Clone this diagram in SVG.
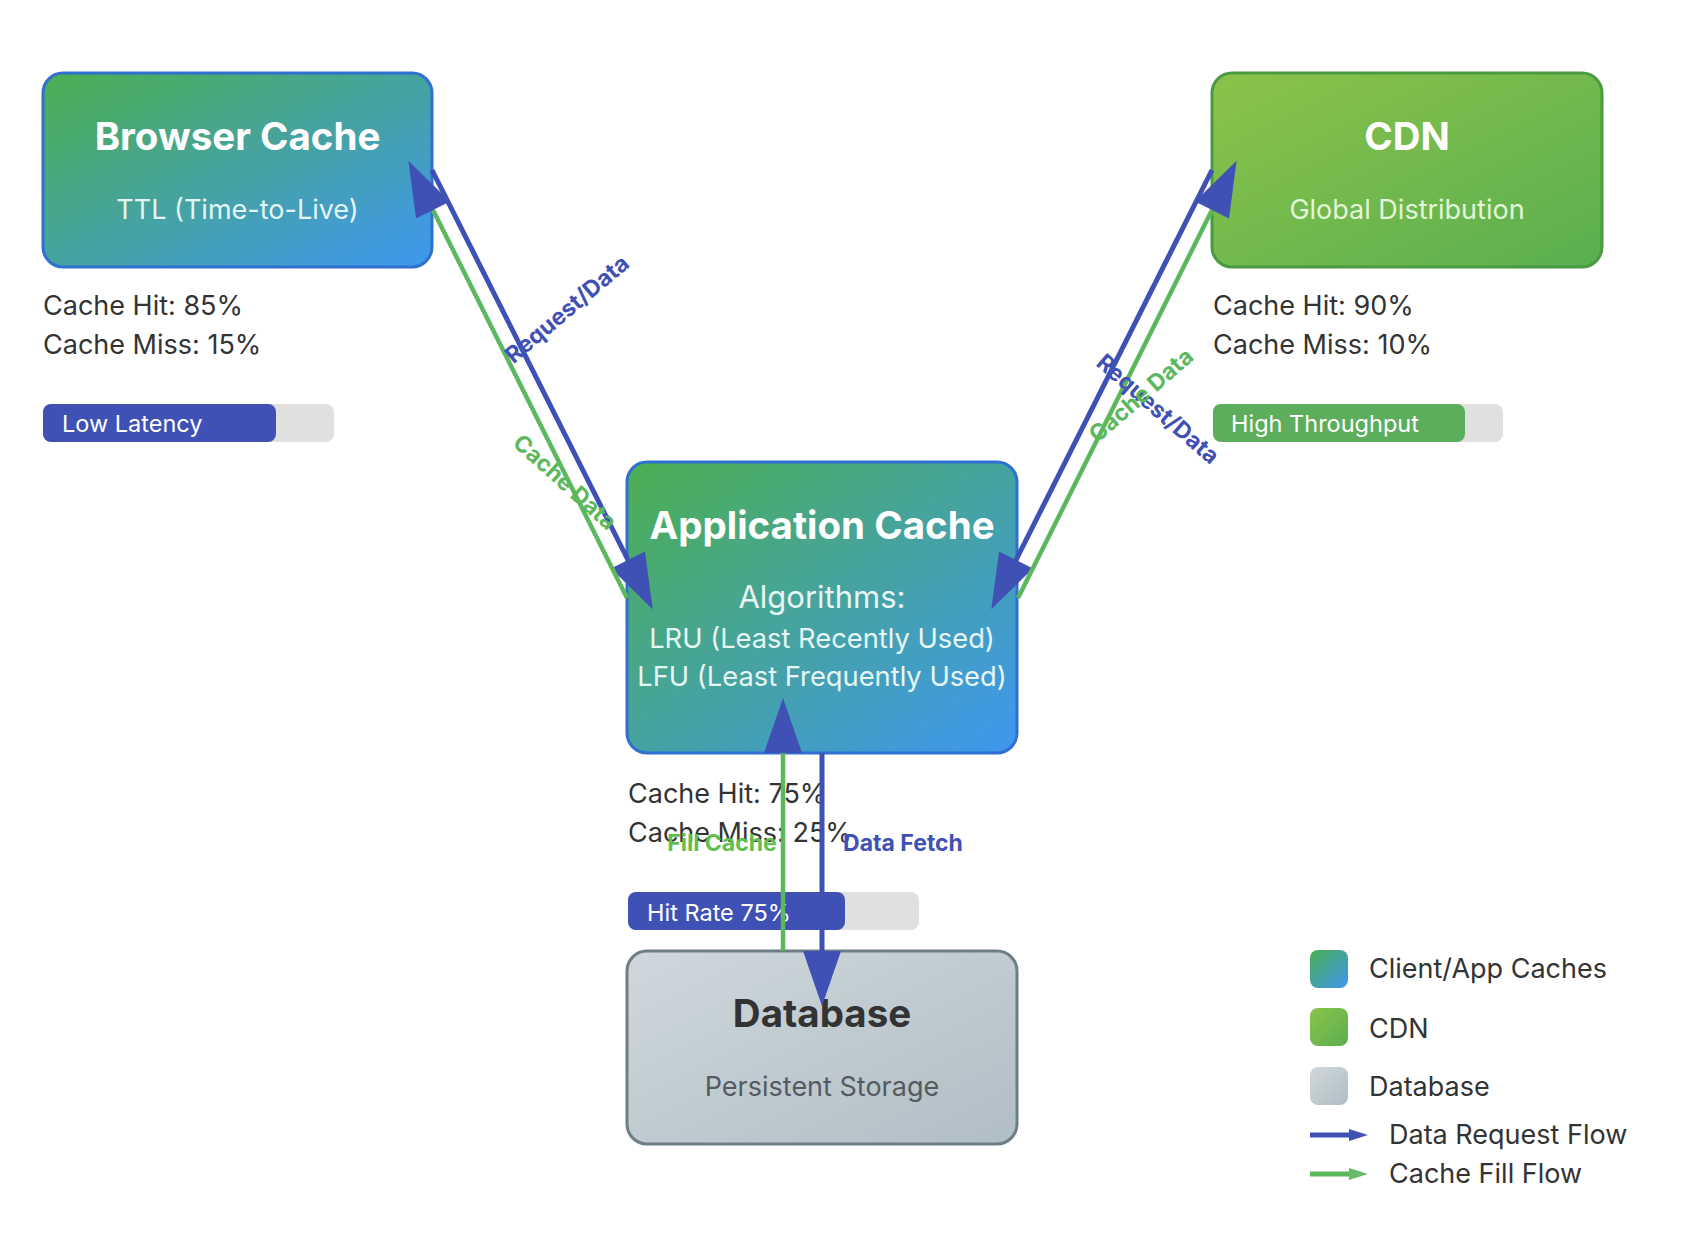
<svg xmlns="http://www.w3.org/2000/svg" width="1686" height="1234" viewBox="0 0 1686 1234">
  <style>
    text { font-family: Inter, "Liberation Sans", "DejaVu Sans", sans-serif; }
    .title { font-size: 38.5px; font-weight: 700; fill: #ffffff; text-anchor: middle; }
    .sub { font-size: 27px; text-anchor: middle; }
    .stat { font-size: 27px; fill: #333333; }
    .barText { font-size: 23.5px; fill: #ffffff; }
    .lbl { font-size: 23px; font-weight: 700; text-anchor: middle; }
    .legend { font-size: 27px; fill: #333333; }
    .req { stroke: #3f51b5; stroke-width: 5; fill: none; }
    .fill { stroke: #5cb85c; stroke-width: 4.5; fill: none; }
  </style>
  <defs>
    <linearGradient id="gClient" x1="0" y1="0" x2="1" y2="1">
      <stop offset="0" stop-color="#4caf50"/>
      <stop offset="1" stop-color="#3f97f0"/>
    </linearGradient>
    <linearGradient id="gCdn" x1="0" y1="0" x2="1" y2="1">
      <stop offset="0" stop-color="#8bc34a"/>
      <stop offset="1" stop-color="#5aaf50"/>
    </linearGradient>
    <linearGradient id="gDb" x1="0" y1="0" x2="1" y2="1">
      <stop offset="0" stop-color="#cfd8dc"/>
      <stop offset="1" stop-color="#b0bec5"/>
    </linearGradient>
    <marker id="ah" markerUnits="userSpaceOnUse" markerWidth="56" markerHeight="38" refX="0" refY="19" orient="auto" overflow="visible">
      <path d="M0,0 L55,19 L0,38 Z" fill="#3f51b5"/>
    </marker>
    <marker id="ahBlueSm" markerUnits="userSpaceOnUse" markerWidth="20" markerHeight="12" refX="0" refY="6" orient="auto" overflow="visible">
      <path d="M0,0 L19,6 L0,12 Z" fill="#3f51b5"/>
    </marker>
    <marker id="ahGreenSm" markerUnits="userSpaceOnUse" markerWidth="20" markerHeight="12" refX="0" refY="6" orient="auto" overflow="visible">
      <path d="M0,0 L19,6 L0,12 Z" fill="#66bb6a"/>
    </marker>
  </defs>

  <rect width="1686" height="1234" fill="#ffffff"/>

  <!-- Browser Cache -->
  <g id="browser-cache">
    <rect x="43" y="73" width="389" height="194" rx="20" fill="url(#gClient)" stroke="#3070d0" stroke-width="3"/>
    <text class="title" x="237.5" y="150">Browser Cache</text>
    <text class="sub" x="237.5" y="219" fill="#e3f6f4">TTL (Time-to-Live)</text>
    <text class="stat" x="43" y="315">Cache Hit: 85%</text>
    <text class="stat" x="43" y="354">Cache Miss: 15%</text>
    <rect x="43" y="404" width="291" height="38" rx="8" fill="#e0e0e0"/>
    <rect x="43" y="404" width="233" height="38" rx="8" fill="#3f51b5"/>
    <text class="barText" x="62" y="432">Low Latency</text>
  </g>

  <!-- CDN -->
  <g id="cdn">
    <rect x="1212" y="73" width="390" height="194" rx="20" fill="url(#gCdn)" stroke="#4a9a42" stroke-width="3"/>
    <text class="title" x="1407" y="150">CDN</text>
    <text class="sub" x="1407" y="219" fill="#e2f6d8">Global Distribution</text>
    <text class="stat" x="1213" y="315">Cache Hit: 90%</text>
    <text class="stat" x="1213" y="354">Cache Miss: 10%</text>
    <rect x="1213" y="404" width="290" height="38" rx="8" fill="#e0e0e0"/>
    <rect x="1213" y="404" width="252" height="38" rx="8" fill="#5cae5c"/>
    <text class="barText" x="1231" y="432">High Throughput</text>
  </g>

  <!-- Application Cache -->
  <g id="application-cache">
    <rect x="627" y="462" width="390" height="291" rx="20" fill="url(#gClient)" stroke="#3070d0" stroke-width="3"/>
    <text class="title" x="822" y="539">Application Cache</text>
    <text class="sub" x="822" y="608" fill="#e6f6f4" style="font-size:31px">Algorithms:</text>
    <text class="sub" x="822" y="648" fill="#e6f6f4" style="font-size:27.3px">LRU (Least Recently Used)</text>
    <text class="sub" x="822" y="686" fill="#e6f6f4" style="font-size:27.3px">LFU (Least Frequently Used)</text>
    <text class="stat" x="628" y="803">Cache Hit: 75%</text>
    <text class="stat" x="628" y="842">Cache Miss: 25%</text>
    <rect x="628" y="892" width="291" height="38" rx="8" fill="#e0e0e0"/>
    <rect x="628" y="892" width="217" height="38" rx="8" fill="#3f51b5"/>
    <text class="barText" x="647" y="921">Hit Rate 75%</text>
  </g>

  <!-- Database -->
  <g id="database">
    <rect x="627" y="951" width="390" height="193" rx="20" fill="url(#gDb)" stroke="#6e7e86" stroke-width="3"/>
    <text class="title" x="822" y="1027" style="fill:#333333">Database</text>
    <text class="sub" x="822" y="1096" fill="#555a5e">Persistent Storage</text>
  </g>

  <!-- Connectors -->
  <g id="connectors">
    <line class="req" x1="432" y1="170" x2="628" y2="560" marker-end="url(#ah)"/>
    <line class="fill" x1="627" y1="598" x2="433" y2="210" marker-end="url(#ah)"/>
    <line class="req" x1="1212" y1="170" x2="1016" y2="560" marker-end="url(#ah)"/>
    <line class="fill" x1="1018" y1="598" x2="1212" y2="210" marker-end="url(#ah)"/>
    <line class="fill" x1="783" y1="951" x2="783" y2="753" marker-end="url(#ah)"/>
    <line class="req" x1="822" y1="753" x2="822" y2="951" marker-end="url(#ah)"/>

    <text class="lbl" fill="#3f51b5" x="567" y="309" dy="0.35em" transform="rotate(-40 567 309)">Request/Data</text>
    <text class="lbl" fill="#5cb85c" x="565" y="482" dy="0.35em" transform="rotate(42 565 482)">Cache Data</text>
    <text class="lbl" fill="#3f51b5" x="1158" y="409" dy="0.35em" transform="rotate(41 1158 409)">Request/Data</text>
    <text class="lbl" fill="#5cb85c" x="1141" y="395" dy="0.35em" transform="rotate(-41 1141 395)">Cache Data</text>
    <text class="lbl" fill="#5fbf4f" x="722" y="851">Fill Cache</text>
    <text class="lbl" fill="#3f51b5" x="903" y="851">Data Fetch</text>
  </g>

  <!-- Legend -->
  <g id="legend">
    <rect x="1310" y="950" width="38" height="38" rx="8" fill="url(#gClient)"/>
    <text class="legend" x="1369" y="978">Client/App Caches</text>
    <rect x="1310" y="1008" width="38" height="38" rx="8" fill="url(#gCdn)"/>
    <text class="legend" x="1369" y="1038">CDN</text>
    <rect x="1310" y="1067" width="38" height="38" rx="8" fill="url(#gDb)"/>
    <text class="legend" x="1369" y="1096">Database</text>
    <line x1="1310" y1="1135" x2="1349" y2="1135" stroke="#3f51b5" stroke-width="5" marker-end="url(#ahBlueSm)"/>
    <text class="legend" x="1389" y="1144">Data Request Flow</text>
    <line x1="1310" y1="1174" x2="1349" y2="1174" stroke="#5cb85c" stroke-width="5" marker-end="url(#ahGreenSm)"/>
    <text class="legend" x="1389" y="1183">Cache Fill Flow</text>
  </g>
</svg>
